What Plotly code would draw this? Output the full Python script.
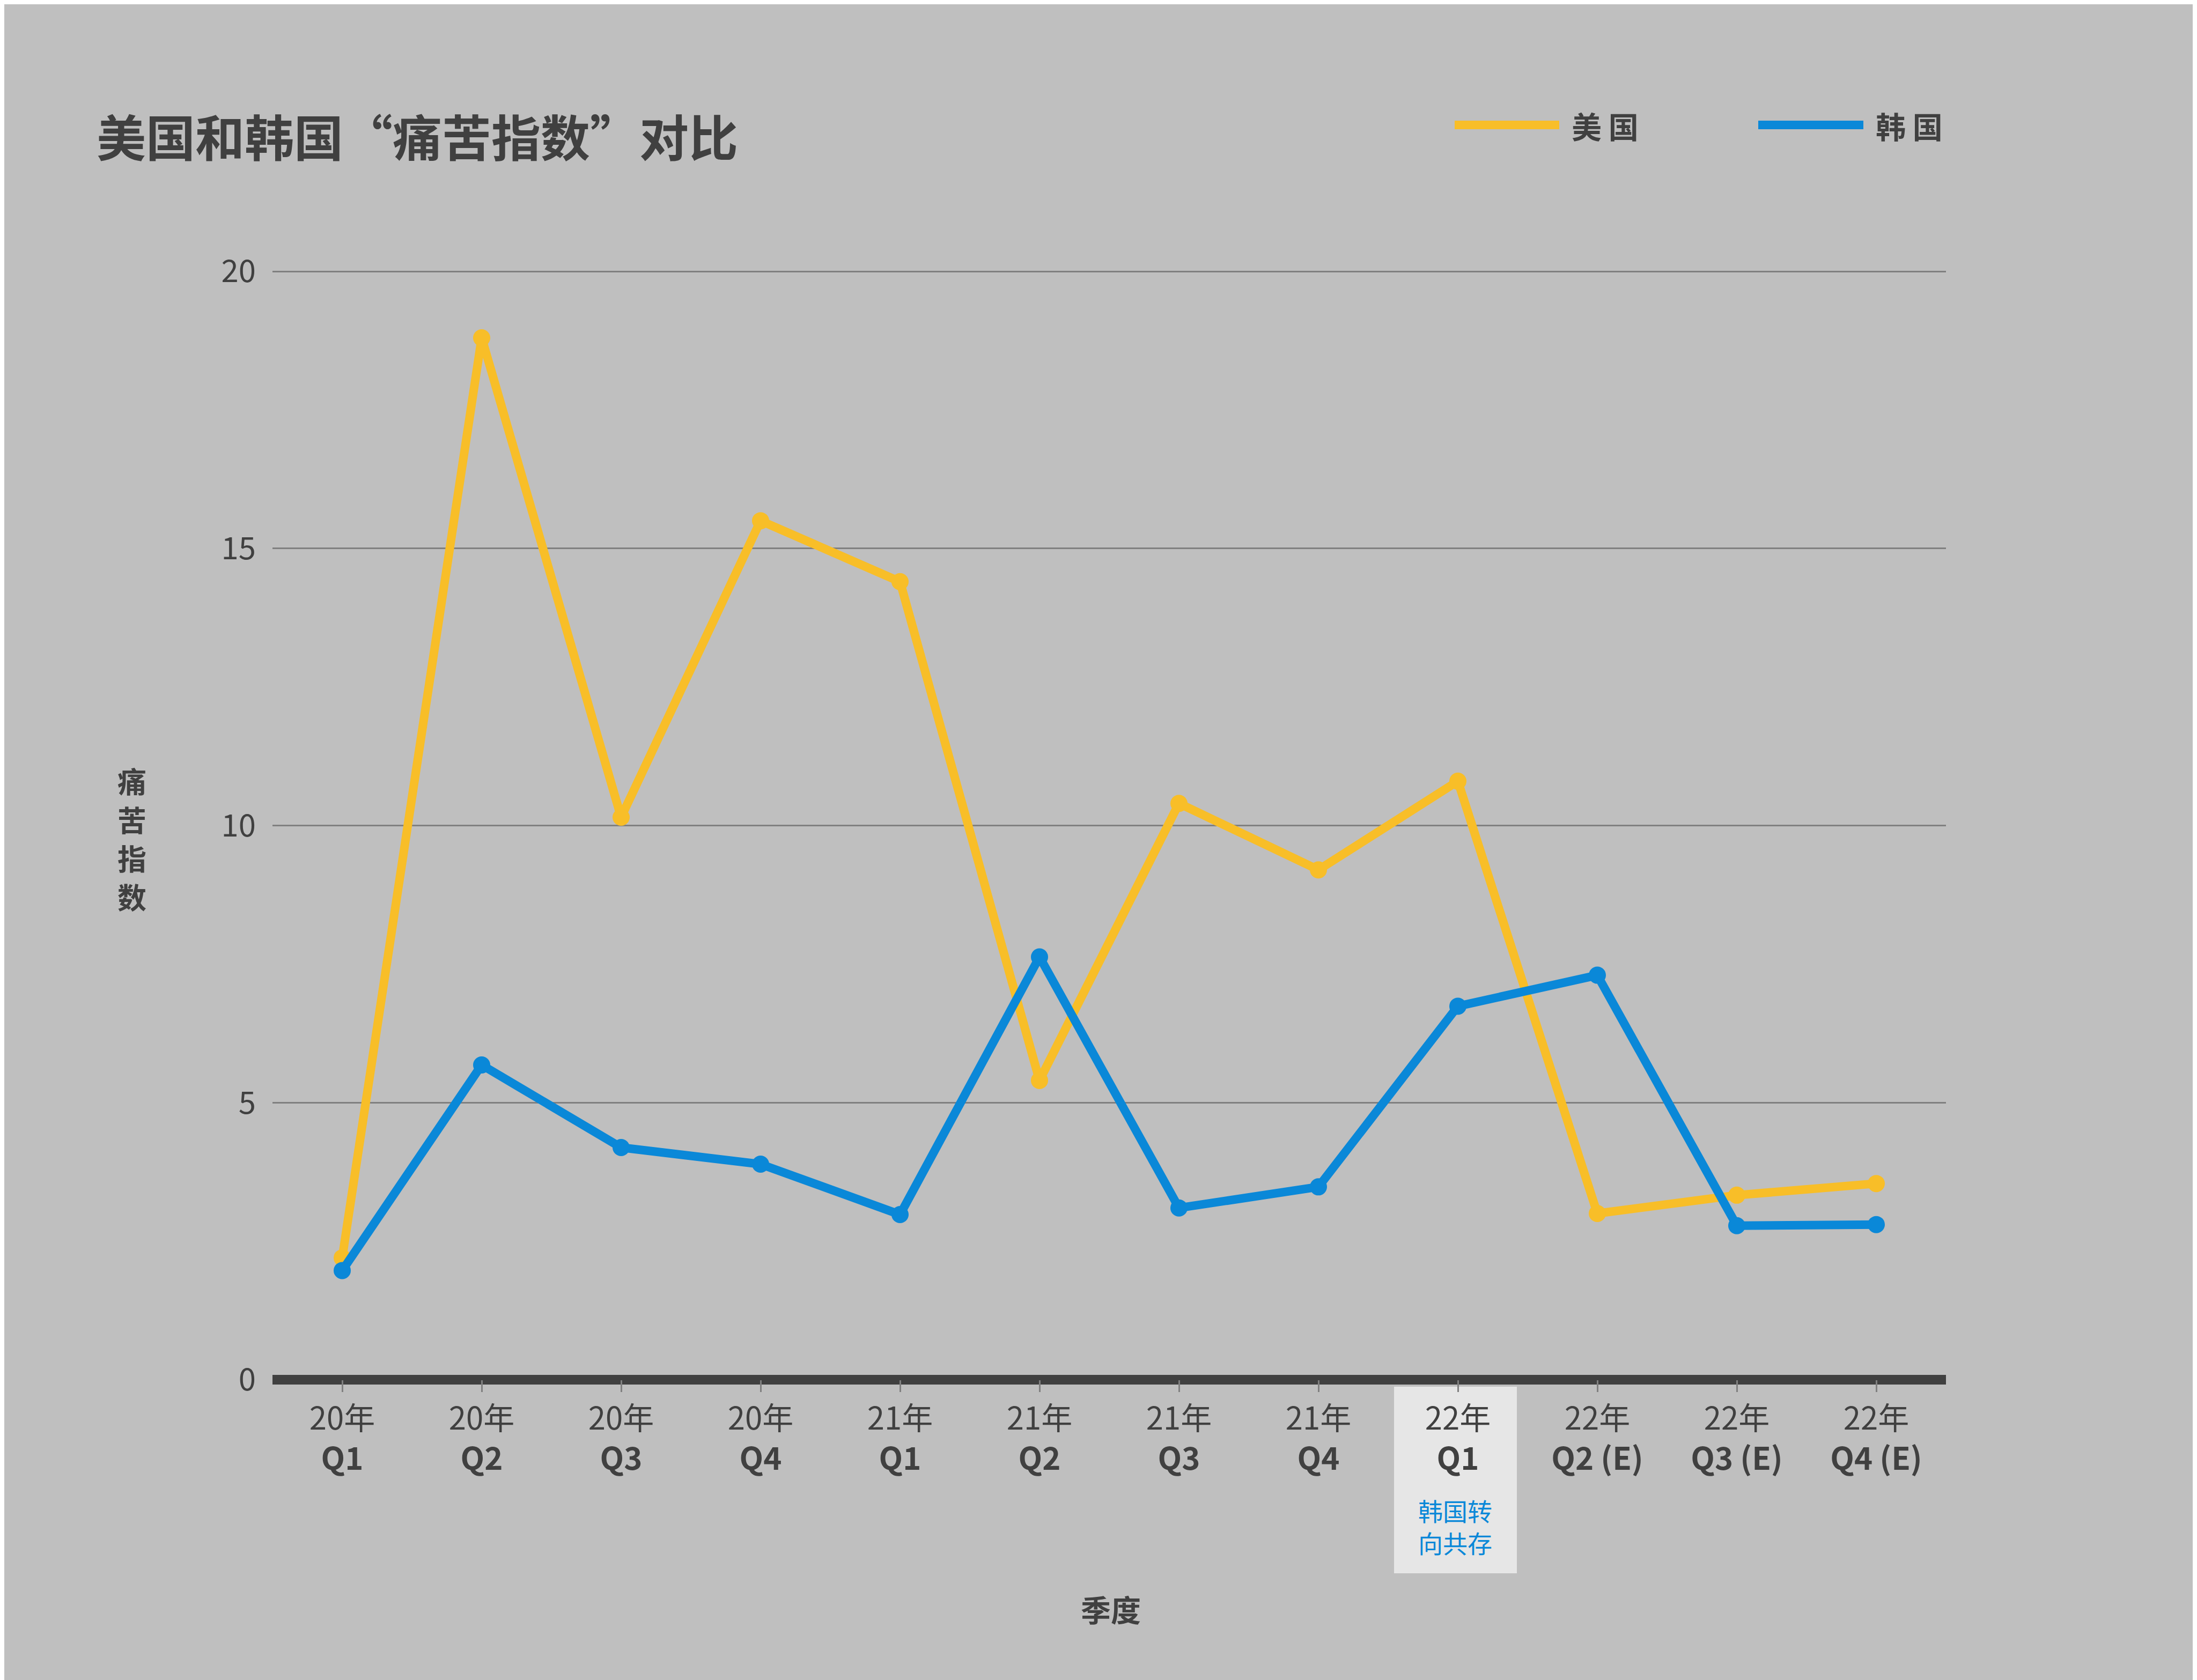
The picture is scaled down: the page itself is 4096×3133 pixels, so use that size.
import plotly.graph_objects as go

# data
quarters = ["20年<br><b>Q1</b>", "20年<br><b>Q2</b>", "20年<br><b>Q3</b>", "20年<br><b>Q4</b>",
            "21年<br><b>Q1</b>", "21年<br><b>Q2</b>", "21年<br><b>Q3</b>", "21年<br><b>Q4</b>",
            "22年<br><b>Q1</b>", "22年<br><b>Q2 (E)</b>", "22年<br><b>Q3 (E)</b>", "22年<br><b>Q4 (E)</b>"]
usa = [2.2, 18.8, 10.15, 15.5, 14.4, 5.4, 10.4, 9.2, 10.8, 3.0, 3.33, 3.54]
korea = [1.97, 5.68, 4.19, 3.89, 2.98, 7.63, 3.1, 3.48, 6.74, 7.3, 2.78, 2.8]
ytitle_chars = ["痛", "苦", "指", "数"]

US_COLOR = "#F8BE28"
KR_COLOR = "#0A88D8"
FONT = "Noto Sans CJK SC"
TXT = "#404040"

W, H = 4096, 3133
L, R, T, B = 500, 3620, 496, 2565


def px(x):
    return (x - L) / (R - L)


def py(y):
    return (B - y) / (B - T)


fig = go.Figure()
fig.add_trace(go.Scatter(x=list(range(len(quarters))), y=usa, mode="lines+markers",
                         line=dict(color=US_COLOR, width=16), marker=dict(size=32, color=US_COLOR),
                         name="美国", showlegend=False))
fig.add_trace(go.Scatter(x=list(range(len(quarters))), y=korea, mode="lines+markers",
                         line=dict(color=KR_COLOR, width=16), marker=dict(size=32, color=KR_COLOR),
                         name="韩国", showlegend=False))

shapes = [
    # highlight box behind 22年 Q1
    dict(type="rect", xref="paper", yref="paper", layer="below",
         x0=px(2591), x1=px(2820), y0=py(2578), y1=py(2926),
         fillcolor="#E6E6E6", line=dict(width=0)),
    # legend lines
    dict(type="line", xref="paper", yref="paper", x0=px(2704), x1=px(2899), y0=py(225), y1=py(225),
         line=dict(color=US_COLOR, width=16)),
    dict(type="line", xref="paper", yref="paper", x0=px(3270), x1=px(3466), y0=py(225), y1=py(225),
         line=dict(color=KR_COLOR, width=16)),
]

annotations = [
    dict(text="<b>美国和韩国“痛苦指数”对比</b>", xref="paper", yref="paper", x=px(170), y=py(243),
         xanchor="left", yanchor="middle", showarrow=False, font=dict(size=92, color=TXT, family=FONT)),
    dict(text="<b>美 国</b>", xref="paper", yref="paper", x=px(2920), y=py(225),
         xanchor="left", yanchor="middle", showarrow=False, font=dict(size=56, color=TXT, family=FONT)),
    dict(text="<b>韩 国</b>", xref="paper", yref="paper", x=px(3487), y=py(225),
         xanchor="left", yanchor="middle", showarrow=False, font=dict(size=56, color=TXT, family=FONT)),
    dict(text="<b>季度</b>", xref="paper", yref="paper", x=px(2063), y=py(2991),
         xanchor="center", yanchor="middle", showarrow=False, font=dict(size=56, color=TXT, family=FONT)),
    dict(text="韩国转<br>向共存", xref="paper", yref="paper", x=px(2705), y=py(2838),
         xanchor="center", yanchor="middle", showarrow=False, font=dict(size=46, color=KR_COLOR, family=FONT)),
]
for i, ch in enumerate(ytitle_chars):
    annotations.append(dict(text="<b>" + ch + "</b>", xref="paper", yref="paper", x=px(238),
                            y=py(1447 + i * 72), xanchor="center", yanchor="middle", showarrow=False,
                            font=dict(size=54, color=TXT, family=FONT)))

fig.update_layout(
    width=W, height=H,
    paper_bgcolor="#BFBFBF", plot_bgcolor="#BFBFBF",
    margin=dict(l=L, r=W - R, t=T, b=H - B),
    font=dict(family=FONT, color=TXT),
    shapes=shapes, annotations=annotations,
    xaxis=dict(tickmode="array", tickvals=list(range(len(quarters))), ticktext=quarters,
               range=[-0.5, 11.5], showgrid=False, zeroline=False, showline=False,
               ticks="outside", ticklen=22, tickwidth=3, tickcolor="#808080",
               tickfont=dict(size=58, color=TXT, family=FONT)),
    yaxis=dict(range=[0, 20.02], tickvals=[0, 5, 10, 15, 20], showgrid=True,
               gridcolor="#808080", gridwidth=3, zeroline=True, zerolinecolor="#404040",
               zerolinewidth=18, showline=False, ticks="", ticklabelstandoff=30,
               tickfont=dict(size=58, color=TXT, family=FONT)),
)

fig.write_html("out.html")
